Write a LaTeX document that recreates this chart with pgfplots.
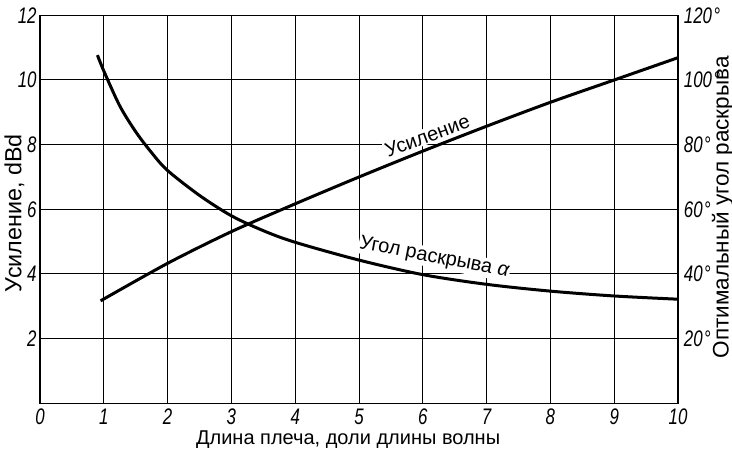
\documentclass[border=0pt]{standalone}
\usepackage{fontspec}
\setmainfont{Liberation Sans}
\newfontfamily\tickfont[FakeStretch=0.75]{Liberation Sans}
\usepackage{pgfplots}
\pgfplotsset{compat=1.18}

\begin{document}
\begin{tikzpicture}
\useasboundingbox (-24pt,-27.4pt) rectangle (415.2pt,242pt);
\begin{axis}[
 at={(0,0)}, anchor=south west,
 scale only axis, width=382.8pt, height=232.8pt,
 xmin=0, xmax=10, ymin=0, ymax=12,
 xtick={0,...,10}, ytick={2,4,...,12},
 grid=major, major grid style={black, line width=0.6pt},
 major tick length=0pt,
 axis line style={line width=0.9pt},
 /pgf/number format/assume math mode=true,
 xticklabel style={font=\tickfont\itshape\fontsize{13.5}{16}\selectfont},
 yticklabel style={font=\tickfont\itshape\fontsize{13.5}{16}\selectfont, xshift=1.5pt},
 xlabel={Длина плеча, доли длины волны},
 xlabel style={font=\fontsize{12}{14}\selectfont, at={(axis description cs:0.483,-0.0945)}, anchor=center},
 ylabel={Усиление, dBd},
 ylabel style={font=\fontsize{14}{16}\selectfont, at={(axis description cs:-0.04,0.49)}, anchor=center},
]
\addplot[black, line width=1.8pt, smooth, tension=0.5] coordinates {
 (0.95,3.17) (2,4.33) (3,5.31) (4,6.17) (5,7.0) (6,7.8) (7,8.57) (8,9.31) (9,10.0) (10,10.69)
};
\node[rotate=20.5, fill=white, inner sep=0.6pt, font=\fontsize{12}{14}\selectfont] at (axis cs:6.07,8.27) {Усиление};
\node[rotate=-11, fill=white, inner sep=0.6pt, font=\fontsize{12}{14}\selectfont] at (axis cs:6.18,4.5) {Угол раскрыва {\itshape α}};
\end{axis}
\begin{axis}[
 at={(0,0)}, anchor=south west,
 scale only axis, width=382.8pt, height=232.8pt,
 xmin=0, xmax=10, ymin=0, ymax=120,
 axis x line=none, axis y line*=right,
 clip=false,
 ytick={20,40,...,120},
 major tick length=0pt,
 axis line style={line width=0.9pt},
 /pgf/number format/assume math mode=true,
 yticklabel={\pgfmathprintnumber{\tick}\kern0.8pt°},
 yticklabel style={font=\tickfont\itshape\fontsize{13.5}{16}\selectfont},
]
\addplot[black, line width=1.8pt, smooth, tension=0.5] coordinates {
 (0.9,107.7) (1,102.8) (1.25,92) (1.5,84) (1.75,77.5) (2,72) (2.5,64.3) (3,58) (3.5,53.4) (4,49.8) (5,44.3) (6,39.8) (7,36.8) (8,34.7) (9,33.2) (10,32.2)
};
\node[rotate=90, anchor=center, font=\fontsize{13.5}{15}\selectfont] at (rel axis cs:1.07,0.505) {Оптимальный угол раскрыва};
\end{axis}
\end{tikzpicture}
\end{document}
